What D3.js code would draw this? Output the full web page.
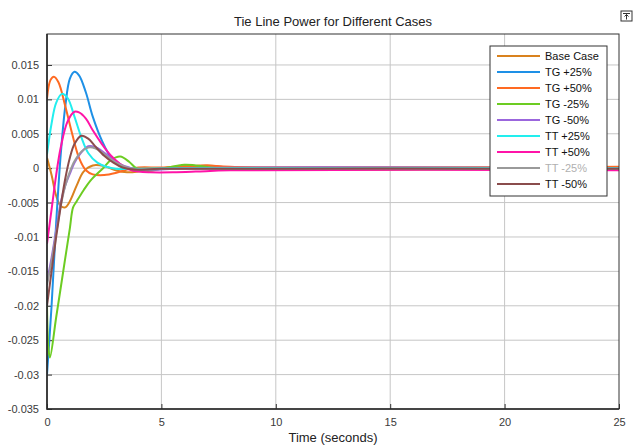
<!DOCTYPE html>
<html>
<head>
<meta charset="utf-8">
<script src="https://cdn.jsdelivr.net/npm/d3@7"></script>
<style>
  body { margin: 0; background: #fff; }
  svg { display: block; font-family: "Liberation Sans", Arial, sans-serif; }
</style>
</head>
<body>
<div id="chart"></div>
<script>
// tie line power responses
const seriesNames = ["Base Case", "TG +25%", "TG +50%", "TG -25%", "TG -50%", "TT +25%", "TT +50%", "TT -25%", "TT -50%"];
const seriesColors = ["#d9821e", "#1e90e6", "#ff6a22", "#6ccc22", "#9b66dd", "#22eeee", "#ff14a8", "#9a9a9a", "#8a4c4c"];

const baseCase = [[0,0.0015],[0.2,-0.001],[0.4,-0.004],[0.6,-0.0055],[0.8,-0.0057],[1.0,-0.0048],[1.3,-0.0025],[1.6,-0.0005],[2.0,0.0004],[2.5,0.0003],[3.0,-0.0003],[3.5,-0.0006],[4.0,-0.0005],[5,0],[6,0.0002],[7,0.0004],[8,0.0001],[10,0.0001],[25,0.0001]];
const tgPlus25 = [[0,-0.030],[0.2,-0.020],[0.4,-0.008],[0.6,0.002],[0.8,0.009],[1.0,0.013],[1.2,0.014],[1.4,0.0135],[1.7,0.011],[2.0,0.0075],[2.4,0.004],[2.8,0.0015],[3.2,0.0003],[3.6,-0.0001],[4,-0.0001],[5,0],[25,0]];
const tgPlus50 = [[0,0.0101],[0.15,0.0128],[0.3,0.0133],[0.5,0.0125],[0.8,0.009],[1.1,0.005],[1.4,0.0015],[1.7,-0.0003],[2.0,-0.0009],[2.5,-0.001],[3.0,-0.0007],[3.5,-0.0002],[4,0.0001],[5,0.0001],[6,0.0003],[7,0.0004],[8,0.0002],[25,0.0002]];
const tgMinus25 = [[0,-0.020],[0.07,-0.0265],[0.13,-0.0275],[0.4,-0.0217],[0.7,-0.0152],[1.0,-0.0087],[1.14,-0.0057],[1.3,-0.0048],[1.6,-0.0032],[1.9,-0.0018],[2.45,0],[2.8,0.0012],[3.2,0.0017],[3.6,0.0009],[3.9,0],[4.4,-0.0004],[5,-0.0001],[6,0.0005],[6.5,0.0004],[7.5,0],[25,0]];
const tgMinus50 = [[0,-0.0165],[0.2,-0.013],[0.4,-0.009],[0.6,-0.005],[0.8,-0.0025],[1.0,-0.0008],[1.2,0.0008],[1.5,0.0023],[1.8,0.0032],[2.1,0.0031],[2.4,0.0025],[2.8,0.0015],[3.2,0.0006],[3.6,0.0001],[4,-0.0002],[5,-0.0002],[6,0],[25,0]];
const ttPlus25 = [[0,0.002],[0.2,0.0065],[0.4,0.0095],[0.65,0.0108],[0.9,0.0102],[1.2,0.0075],[1.5,0.0045],[1.8,0.0022],[2.2,0.0008],[2.6,0.0002],[3.0,-0.0001],[3.5,-0.0001],[5,0],[25,0]];
const ttPlus50 = [[0,-0.011],[0.2,-0.006],[0.4,-0.001],[0.6,0.003],[0.9,0.0068],[1.2,0.0082],[1.4,0.0081],[1.7,0.0072],[2.0,0.0055],[2.4,0.0035],[2.8,0.0018],[3.2,0.0006],[3.6,-0.0002],[4.0,-0.0005],[4.5,-0.0006],[5.5,-0.0006],[6.5,-0.0005],[8,-0.0003],[25,-0.0003]];
const ttMinus25 = [[0,-0.017],[0.2,-0.0135],[0.4,-0.0095],[0.6,-0.0055],[0.8,-0.0025],[1.0,-0.0005],[1.2,0.001],[1.5,0.0024],[1.8,0.003],[2.1,0.0029],[2.4,0.0023],[2.8,0.0013],[3.2,0.0005],[3.6,0],[4,-0.0002],[5,-0.0001],[25,-0.0001]];
const ttMinus50 = [[0,-0.020],[0.2,-0.015],[0.4,-0.010],[0.6,-0.0055],[0.8,-0.0015],[1.0,0.0015],[1.2,0.0035],[1.5,0.0047],[1.8,0.0043],[2.1,0.0032],[2.5,0.0018],[2.9,0.0008],[3.3,0.0001],[3.8,-0.0002],[5,-0.0001],[25,-0.0001]];

const seriesData = [baseCase, tgPlus25, tgPlus50, tgMinus25, tgMinus50, ttPlus25, ttPlus50, ttMinus25, ttMinus50];

const xTicks = [0, 5, 10, 15, 20, 25];
const yTicks = [0.015, 0.01, 0.005, 0, -0.005, -0.01, -0.015, -0.02, -0.025, -0.03, -0.035];

const width = 634, height = 445;
const plot = { left: 47, right: 619, top: 34, bottom: 409 };

const svg = d3.select("#chart").append("svg")
  .attr("width", width)
  .attr("height", height);

const x = d3.scaleLinear().domain([0, 25]).range([plot.left, plot.right]);
const y = d3.scaleLinear().domain([-0.035, 0.0195]).range([plot.bottom, plot.top]);

// grid
svg.append("g").selectAll("line.gx")
  .data(xTicks.slice(1, -1)).join("line")
  .attr("x1", d => x(d)).attr("x2", d => x(d))
  .attr("y1", plot.top).attr("y2", plot.bottom)
  .attr("stroke", "#c6c6c6").attr("stroke-width", 1);
svg.append("g").selectAll("line.gy")
  .data(yTicks.slice(0, -1)).join("line")
  .attr("x1", plot.left).attr("x2", plot.right)
  .attr("y1", d => y(d)).attr("y2", d => y(d))
  .attr("stroke", "#c6c6c6").attr("stroke-width", 1);

// axes with inward ticks
const fmt = d => d === 0 ? "0" : String(+d.toFixed(3));
const xAxis = svg.append("g")
  .attr("transform", `translate(0,${plot.bottom})`)
  .call(d3.axisBottom(x).tickValues(xTicks).tickSize(-5).tickPadding(9).tickFormat(fmt));
const yAxis = svg.append("g")
  .attr("transform", `translate(${plot.left},0)`)
  .call(d3.axisLeft(y).tickValues(yTicks).tickSize(-5).tickPadding(8).tickFormat(fmt));
[xAxis, yAxis].forEach(a => {
  a.select(".domain").remove();
  a.selectAll(".tick line").attr("stroke", "#333");
  a.selectAll(".tick text").attr("fill", "#3a3a3a").style("font-size", "11px")
    .style("font-family", "'Liberation Sans', Arial, sans-serif");
});

// lines
const line = d3.line()
  .x(d => x(d[0]))
  .y(d => y(d[1]))
  .curve(d3.curveCatmullRom.alpha(0.5));

svg.append("clipPath").attr("id", "clip").append("rect")
  .attr("x", plot.left).attr("y", plot.top)
  .attr("width", plot.right - plot.left).attr("height", plot.bottom - plot.top);

svg.append("g").attr("clip-path", "url(#clip)")
  .selectAll("path")
  .data(seriesData).join("path")
  .attr("d", line)
  .attr("fill", "none")
  .attr("stroke", (d, i) => seriesColors[i])
  .attr("stroke-width", 2)
  .attr("stroke-linejoin", "round");

// box
svg.append("rect")
  .attr("x", plot.left).attr("y", plot.top)
  .attr("width", plot.right - plot.left).attr("height", plot.bottom - plot.top)
  .attr("fill", "none").attr("stroke", "#333").attr("stroke-width", 1);
svg.append("path")
  .attr("d", `M${plot.left},${plot.top}V${plot.bottom}H${plot.right}`)
  .attr("fill", "none").attr("stroke", "#2a2a2a").attr("stroke-width", 1.6);

// title and label
svg.append("text")
  .attr("x", (plot.left + plot.right) / 2).attr("y", 26)
  .attr("text-anchor", "middle")
  .style("font-size", "13px").attr("fill", "#222")
  .text("Tie Line Power for Different Cases");
svg.append("text")
  .attr("x", (plot.left + plot.right) / 2).attr("y", 442)
  .attr("text-anchor", "middle")
  .style("font-size", "13px").attr("fill", "#222")
  .text("Time (seconds)");

// legend
const legend = svg.append("g").attr("transform", "translate(490,46)");
legend.append("rect")
  .attr("width", 117).attr("height", 150)
  .attr("fill", "#fff").attr("stroke", "#333").attr("stroke-width", 1);
const items = legend.selectAll("g.item")
  .data(seriesNames).join("g")
  .attr("transform", (d, i) => `translate(0,${10 + i * 16})`);
items.append("line")
  .attr("x1", 7).attr("x2", 50)
  .attr("stroke", (d, i) => seriesColors[i])
  .attr("stroke-width", 2);
items.append("text")
  .attr("x", 55).attr("dy", "0.35em")
  .style("font-size", "11px")
  .attr("fill", (d, i) => i === 7 ? "#b0b0b0" : "#111")
  .text(d => d);

// little figure toolbar glyph in the corner
const icon = svg.append("g").attr("transform", "translate(621,11)");
icon.append("rect").attr("width", 11).attr("height", 10)
  .attr("fill", "#fff").attr("stroke", "#333").attr("stroke-width", 1);
icon.append("path").attr("d", "M2,2.5H9M5.5,8.5V3.5M3.5,5.5L5.5,3.5L7.5,5.5")
  .attr("fill", "none").attr("stroke", "#333").attr("stroke-width", 1);
</script>
</body>
</html>
